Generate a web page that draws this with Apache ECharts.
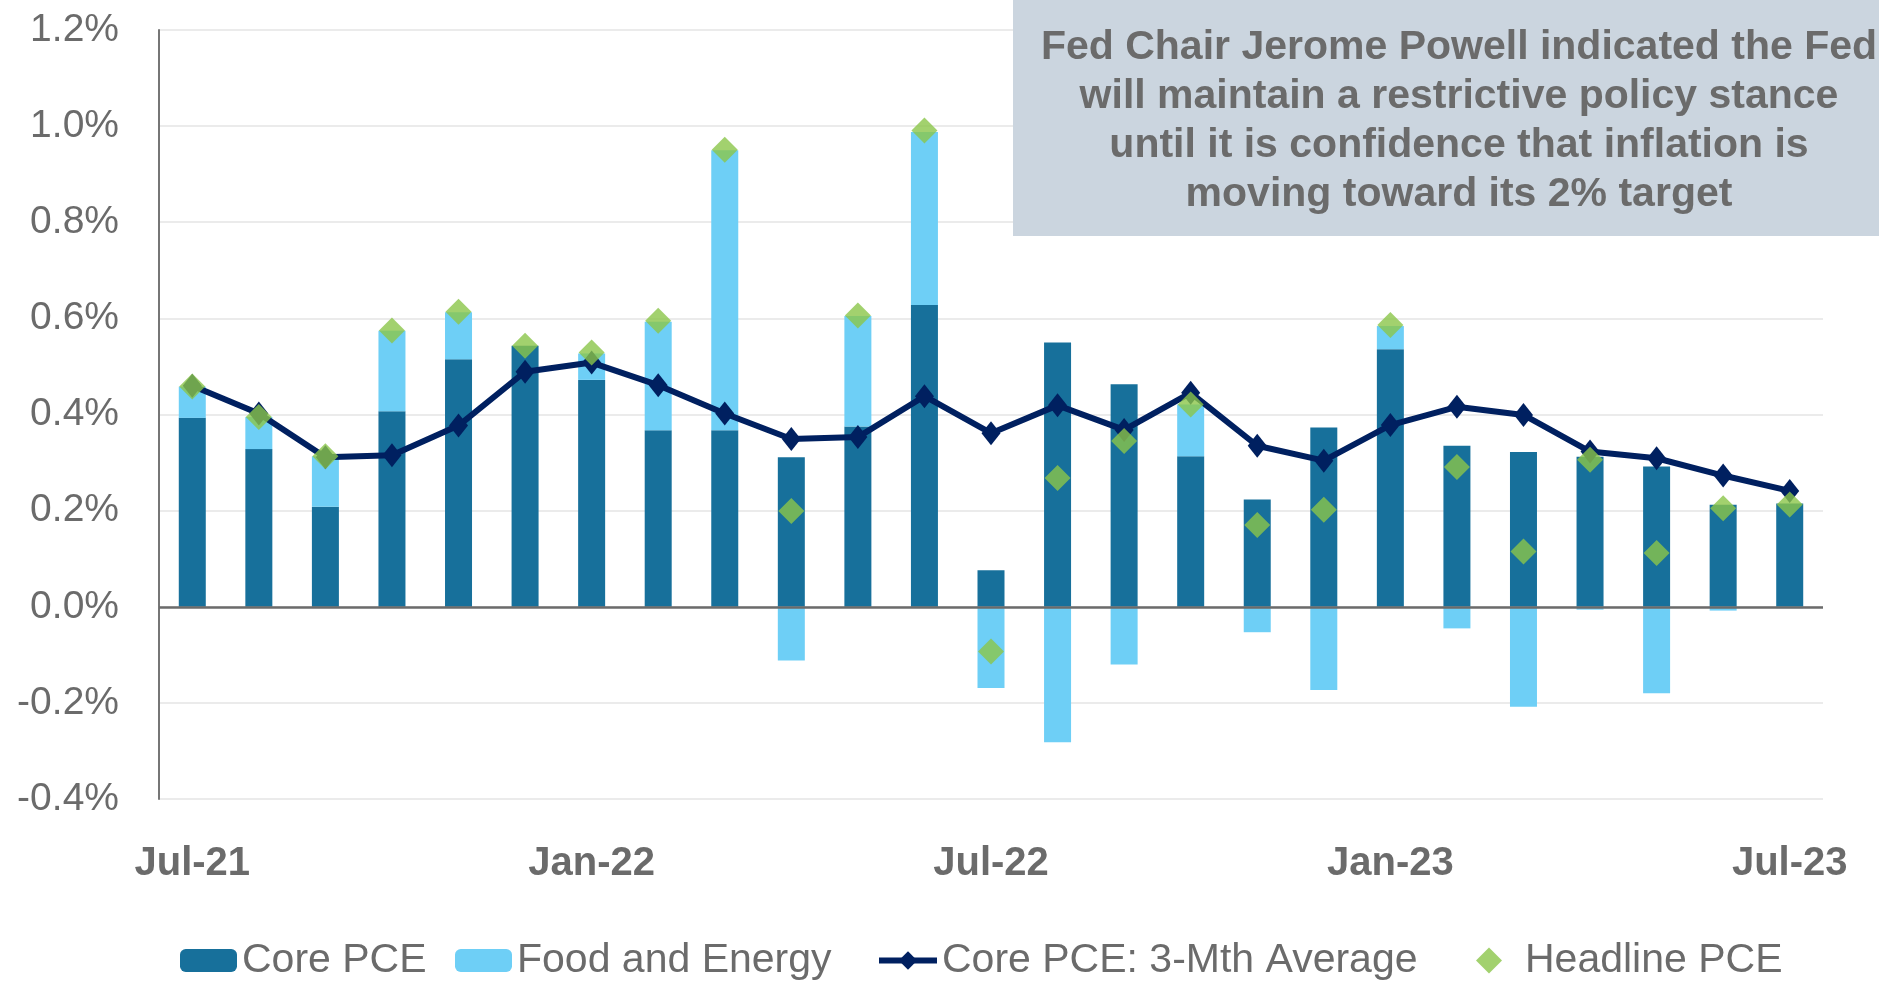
<!DOCTYPE html>
<html>
<head>
<meta charset="utf-8">
<title>PCE inflation</title>
<script src="https://cdn.jsdelivr.net/npm/echarts@6/dist/echarts.min.js"></script>
<style>
  html, body { margin: 0; padding: 0; background: #fff; }
  #chart { width: 1879px; height: 982px; }
</style>
</head>
<body>
<div id="chart"></div>
<script>
// monthly % change, Jul-21 .. Jul-23
var months = ['Jul-21', 'Aug-21', 'Sep-21', 'Oct-21', 'Nov-21', 'Dec-21',
  'Jan-22', 'Feb-22', 'Mar-22', 'Apr-22', 'May-22', 'Jun-22',
  'Jul-22', 'Aug-22', 'Sep-22', 'Oct-22', 'Nov-22', 'Dec-22',
  'Jan-23', 'Feb-23', 'Mar-23', 'Apr-23', 'May-23', 'Jun-23', 'Jul-23'];
var corePce = [0.393, 0.328, 0.208, 0.407, 0.515, 0.543, 0.472, 0.367, 0.367, 0.311, 0.375, 0.628,
  0.076, 0.550, 0.463, 0.313, 0.223, 0.373, 0.536, 0.335, 0.322, 0.312, 0.292, 0.212, 0.215];
var foodEnergy = [0.065, 0.067, 0.105, 0.167, 0.098, 0.0, 0.055, 0.226, 0.583, -0.112, 0.230, 0.360,
  -0.169, -0.282, -0.120, 0.108, -0.053, -0.173, 0.048, -0.045, -0.208, -0.006, -0.180, -0.008, -0.003];
var core3m = [0.460, 0.402, 0.311, 0.315, 0.377, 0.489, 0.508, 0.461, 0.402, 0.349, 0.353, 0.438,
  0.361, 0.419, 0.368, 0.445, 0.335, 0.304, 0.378, 0.416, 0.399, 0.323, 0.309, 0.273, 0.241];
var headline = [0.458, 0.395, 0.313, 0.575, 0.614, 0.543, 0.529, 0.595, 0.951, 0.199, 0.606, 0.991,
  -0.093, 0.268, 0.345, 0.421, 0.170, 0.202, 0.586, 0.291, 0.115, 0.306, 0.112, 0.205, 0.213];

var noteLines = [
  'Fed Chair Jerome Powell indicated the Fed',
  'will maintain a restrictive policy stance',
  'until it is confidence that inflation is',
  'moving toward its 2% target'
];

var FONT = '"Liberation Sans", Arial, sans-serif';
var GREY = '#6b6b6b';

var chart = echarts.init(document.getElementById('chart'));

var legendText = { color: GREY, fontSize: 41, fontFamily: FONT, lineHeight: 41 };

var option = {
  animation: false,
  grid: { left: 159, right: 56, top: 30, bottom: 183 },
  legend: [
    { data: ['Core PCE'], left: 180, top: 940, padding: 0, itemWidth: 57, itemHeight: 23,
      itemGap: 0, textStyle: legendText },
    { data: ['Food and Energy'], left: 455, top: 940, padding: 0, itemWidth: 57, itemHeight: 23,
      itemGap: 0, textStyle: legendText },
    { data: ['Core PCE: 3-Mth Average'], left: 876, top: 940, padding: 0, itemWidth: 58, itemHeight: 23,
      itemGap: 0, textStyle: legendText, lineStyle: { width: 6 } },
    { data: [{ name: 'Headline PCE', icon: 'diamond' }], left: 1476, top: 940, padding: 0,
      itemWidth: 26, itemHeight: 26, itemGap: 0,
      textStyle: Object.assign({}, legendText, { padding: [0, 0, 0, 18] }) }
  ],
  xAxis: {
    type: 'category',
    data: months,
    boundaryGap: true,
    axisLine: { show: false, onZero: false },
    axisTick: { show: false },
    axisLabel: {
      interval: 5,
      margin: 45,
      color: GREY,
      fontSize: 40,
      fontWeight: 'bold',
      fontFamily: FONT
    }
  },
  yAxis: {
    type: 'value',
    min: -0.4,
    max: 1.2,
    interval: 0.2,
    axisLine: { show: true, lineStyle: { color: '#767676', width: 2 } },
    axisTick: { show: false },
    splitLine: { lineStyle: { color: '#ebebeb', width: 2 } },
    axisLabel: {
      margin: 40,
      color: GREY,
      fontSize: 39,
      fontFamily: FONT,
      formatter: function (v) { return v.toFixed(1) + '%'; }
    }
  },
  series: [
    {
      name: 'Core PCE',
      type: 'bar',
      stack: 'pce',
      barWidth: 27,
      itemStyle: { color: '#17709b' },
      data: corePce,
      markLine: {
        silent: true,
        symbol: 'none',
        label: { show: false },
        lineStyle: { color: '#6b6b6b', width: 2.5, type: 'solid' },
        data: [{ yAxis: 0 }]
      }
    },
    {
      name: 'Food and Energy',
      type: 'bar',
      stack: 'pce',
      barWidth: 27,
      itemStyle: { color: '#6ecff6' },
      data: foodEnergy
    },
    {
      name: 'Core PCE: 3-Mth Average',
      type: 'line',
      data: core3m,
      symbol: 'diamond',
      symbolSize: [19, 24],
      lineStyle: { color: '#002060', width: 6 },
      itemStyle: { color: '#002060' },
      z: 3
    },
    {
      name: 'Headline PCE',
      type: 'scatter',
      data: headline,
      symbol: 'diamond',
      symbolSize: 26,
      itemStyle: { color: '#8bc64a' },
      z: 4
    }
  ],
  graphic: [
    {
      type: 'rect',
      shape: { x: 1013, y: 0, width: 866, height: 236 },
      style: { fill: '#cbd5df' },
      z: 10
    }
  ].concat(noteLines.map(function (line, i) {
    return {
      type: 'text',
      x: 1459,
      y: 48 + i * 49,
      z: 11,
      style: {
        text: line,
        fill: GREY,
        font: 'bold 41px ' + FONT,
        textAlign: 'center',
        textVerticalAlign: 'middle'
      }
    };
  }))
};

chart.setOption(option);
</script>
</body>
</html>
